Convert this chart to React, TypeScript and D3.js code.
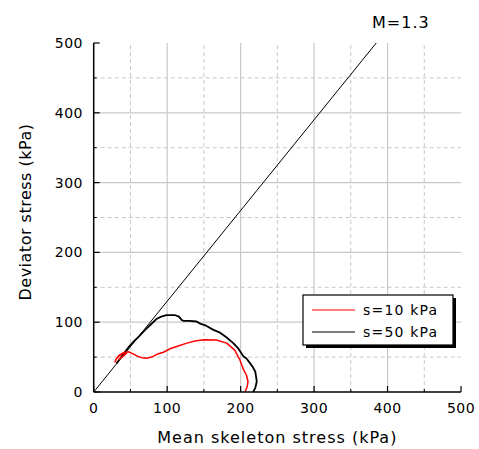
import React from 'react';
import * as d3 from 'd3';

// p (mean skeleton stress) and q (deviator stress), kPa
const redP = [206, 209, 210, 208, 204, 199, 192, 181, 167, 150, 138, 127, 115, 104, 95, 86, 79, 72, 66, 60, 55, 48, 44, 40, 36, 33, 30, 29, 31, 34, 38, 42, 45, 41, 37, 34];
const redQ = [0, 8, 15, 24, 32, 46, 60, 70, 74.5, 75, 73, 70, 66, 62, 57, 54, 50, 48.5, 49, 51, 54, 57.5, 57, 55, 53, 50, 46, 43, 48, 52, 55, 57, 56, 52, 49, 46];

const blackP = [217, 220, 222, 221, 220, 217, 213, 208, 204, 197, 190, 181, 172, 163, 153, 145, 140, 130, 122, 120, 116, 111, 104, 99, 92, 86, 77, 70, 62, 55, 49, 43, 38, 34, 31];
const blackQ = [0, 6, 15, 22, 29, 35, 41, 48, 51, 62, 70, 78, 85, 89, 95, 98, 101, 102, 102, 103, 108, 110, 110, 110, 108, 105, 96, 89, 80, 73, 66, 58, 51, 45, 41];

const M = 1.3;
const xTicks = [0, 100, 200, 300, 400, 500];
const yTicks = [0, 100, 200, 300, 400, 500];
const minorTicks = [50, 150, 250, 350, 450];
const legendLabels = ['s=10 kPa', 's=50 kPa'];

const W = 479;
const H = 449;
const left = 93.7;
const right = 461;
const top = 43;
const bottom = 392;

export default function App() {
  const x = d3.scaleLinear().domain([0, 500]).range([left, right]);
  const y = d3.scaleLinear().domain([0, 500]).range([bottom, top]);

  const line = d3
    .line<[number, number]>()
    .x(d => x(d[0]))
    .y(d => y(d[1]));

  const red = redP.map((p, i) => [p, redQ[i]] as [number, number]);
  const black = blackP.map((p, i) => [p, blackQ[i]] as [number, number]);
  const mLine: [number, number][] = [[0, 0], [500 / M, 500]];

  const font = '"DejaVu Sans", Verdana, sans-serif';
  const gridColor = '#c8c8c8';

  // legend box
  const lx = 303, ly = 295, lw = 150, lh = 50;

  return (
    <svg width={W} height={H} style={{ position: 'absolute', left: 0, top: 0, background: '#fff' }} fontFamily={font}>
      <rect x={0} y={0} width={W} height={H} fill="#fff" />

      {/* grid */}
      {minorTicks.map(t => (
        <g key={'mg' + t}>
          <line x1={x(t)} x2={x(t)} y1={bottom} y2={top} stroke={gridColor} strokeDasharray="4,3" />
          <line x1={left} x2={right} y1={y(t)} y2={y(t)} stroke={gridColor} strokeDasharray="4,3" />
        </g>
      ))}
      {xTicks.slice(1, -1).map(t => (
        <g key={'g' + t}>
          <line x1={x(t)} x2={x(t)} y1={bottom} y2={top} stroke={gridColor} strokeWidth={1.2} />
          <line x1={left} x2={right} y1={y(t)} y2={y(t)} stroke={gridColor} strokeWidth={1.2} />
        </g>
      ))}

      {/* M line */}
      <path d={line(mLine) || ''} fill="none" stroke="#000" strokeWidth={1} />
      <text x={372} y={28} fontSize={16} letterSpacing={1}>M=1.3</text>

      {/* curves */}
      <path d={line(black) || ''} fill="none" stroke="#000" strokeWidth={1.8} strokeLinejoin="round" />
      <path d={line(red) || ''} fill="none" stroke="#ff0000" strokeWidth={1.5} strokeLinejoin="round" />

      {/* axes */}
      <line x1={left} x2={left} y1={bottom} y2={top} stroke="#000" strokeWidth={1.5} />
      <line x1={left} x2={right} y1={bottom} y2={bottom} stroke="#000" strokeWidth={1.5} />
      {xTicks.map(t => (
        <g key={'xt' + t}>
          <line x1={x(t)} x2={x(t)} y1={bottom} y2={bottom - 6} stroke="#000" strokeWidth={1.2} />
          <text x={x(t)} y={413} fontSize={14} letterSpacing={0.5} textAnchor="middle">{t}</text>
        </g>
      ))}
      {yTicks.map(t => (
        <g key={'yt' + t}>
          <line x1={left} x2={left + 6} y1={y(t)} y2={y(t)} stroke="#000" strokeWidth={1.2} />
          <text x={83} y={y(t) + 5} fontSize={14} letterSpacing={0.5} textAnchor="end">{t}</text>
        </g>
      ))}
      {minorTicks.map(t => (
        <g key={'mt' + t}>
          <line x1={x(t)} x2={x(t)} y1={bottom} y2={bottom - 3} stroke="#000" />
          <line x1={left} x2={left + 3} y1={y(t)} y2={y(t)} stroke="#000" />
        </g>
      ))}

      {/* axis titles */}
      <text x={(left + right) / 2} y={443} fontSize={16} letterSpacing={1} textAnchor="middle">
        Mean skeleton stress (kPa)
      </text>
      <text
        transform={`translate(31,${212}) rotate(-90)`}
        fontSize={16}
        letterSpacing={0.5}
        textAnchor="middle"
      >
        Deviator stress (kPa)
      </text>

      {/* legend */}
      <rect x={lx + 3} y={ly + 3} width={lw} height={lh} fill="#000" />
      <rect x={lx} y={ly} width={lw} height={lh} fill="#fff" stroke="#000" strokeWidth={1.2} />
      {legendLabels.map((lab, i) => (
        <g key={lab}>
          <line x1={lx + 9} x2={lx + 52} y1={ly + 15 + i * 22} y2={ly + 15 + i * 22} stroke={i === 0 ? '#ff0000' : '#000'} strokeWidth={1.2} />
          <text x={lx + 60} y={ly + 20 + i * 22} fontSize={14} letterSpacing={1.2}>{lab}</text>
        </g>
      ))}
    </svg>
  );
}
